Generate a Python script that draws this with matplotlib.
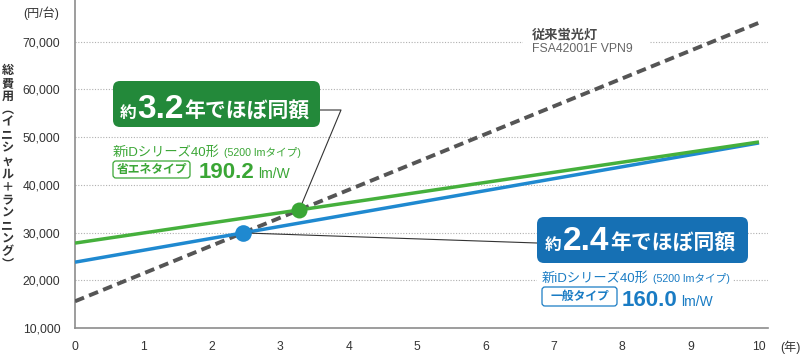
import matplotlib
matplotlib.use('Agg')
import matplotlib.pyplot as plt
from matplotlib.transforms import IdentityTransform
from matplotlib.patches import FancyBboxPatch, Rectangle
from matplotlib.lines import Line2D
import numpy as np

plt.rcParams['font.family'] = ['Liberation Sans', 'Noto Sans CJK JP', 'DejaVu Sans']

# ---------------- data ----------------
years = [0, 10]
conventional_cost = [15600, 74000]     # 従来蛍光灯 FSA42001F VPN9
eco_cost = [27800, 49000]              # 新iDシリーズ40形 省エネタイプ
general_cost = [23800, 48800]          # 新iDシリーズ40形 一般タイプ
x_ticks = [0, 1, 2, 3, 4, 5, 6, 7, 8, 9, 10]
y_ticks = [10000, 20000, 30000, 40000, 50000, 60000, 70000]
y_tick_labels = ['10,000', '20,000', '30,000', '40,000', '50,000', '60,000', '70,000']
payback_eco = '3.2'
payback_general = '2.4'
eff_eco = '190.2'
eff_general = '160.0'

# ---------------- style ----------------
C_GREEN = '#45b03c'
C_GREEN_BOX = '#23893a'
C_GREEN_TXT = '#3aa635'
C_BLUE = '#1f89d0'
C_BLUE_BOX = '#1670b4'
C_BLUE_TXT = '#1a7cc4'
C_DASH = '#555555'
C_AXIS = '#8c8c8c'
C_TXT = '#333333'

W, H = 800, 354
fig = plt.figure(figsize=(W / 100, H / 100), dpi=100)
ax = fig.add_axes([75 / W, (H - 328) / H, (768 - 75) / W, 328 / H])
px_per_year = 68.4
px_per_10k = 47.7
ax.set_xlim(0, (768 - 75) / px_per_year)
ax.set_ylim(10000, 10000 + 328 / px_per_10k * 10000)

for s in ['top', 'right']:
    ax.spines[s].set_visible(False)
for s in ['left', 'bottom']:
    ax.spines[s].set_color(C_AXIS)
    ax.spines[s].set_linewidth(1.2)

ax.set_xticks(x_ticks)
ax.set_xticklabels([str(v) for v in x_ticks])
ax.set_yticks(y_ticks)
ax.set_yticklabels(y_tick_labels)
ax.tick_params(axis='both', length=0, labelsize=8.7, colors=C_TXT)
ax.tick_params(axis='x', pad=9)
ax.tick_params(axis='y', pad=10.5)

# dotted horizontal gridlines (skip the bottom one which is the axis)
for yv in y_ticks[1:]:
    ax.axhline(yv, color='#b0b0b0', lw=0.8, ls=(0, (1, 1.5)), zorder=0.5)

# lines
ax.plot(years, conventional_cost, color=C_DASH, lw=2.8, ls=(0, (2.5, 1.4)), zorder=3,
        solid_capstyle='butt', dash_capstyle='butt')
ax.plot(years, general_cost, color=C_BLUE, lw=2.5, zorder=3.2, solid_capstyle='butt')
ax.plot(years, eco_cost, color=C_GREEN, lw=2.5, zorder=3.3, solid_capstyle='butt')


def crossing(a, b):
    sa = (a[1] - a[0]) / (years[1] - years[0])
    sb = (b[1] - b[0]) / (years[1] - years[0])
    x = years[0] + (b[0] - a[0]) / (sa - sb)
    return x, a[0] + sa * (x - years[0])


gx, gy = crossing(eco_cost, conventional_cost)
bx, by = crossing(general_cost, conventional_cost)

# leader lines
fig.canvas.draw()
renderer = fig.canvas.get_renderer()
ID = IdentityTransform()


def P(x, y):
    return x, H - y


gdx, gdy = ax.transData.transform((gx, gy))
bdx, bdy = ax.transData.transform((bx, by))
ax.add_line(Line2D([P(320, 110)[0], P(341, 110)[0], gdx], [P(320, 110)[1], P(341, 110)[1], gdy],
                   transform=ID, color='#333333', lw=0.8, zorder=4, clip_on=False))
ax.add_line(Line2D([bdx, P(537, 243)[0]], [bdy, P(537, 243)[1]],
                   transform=ID, color='#333333', lw=0.8, zorder=4, clip_on=False))

ax.plot([gx], [gy], 'o', color=C_GREEN_TXT, ms=11.5, zorder=5, mec='none')
ax.plot([bx], [by], 'o', color=C_BLUE, ms=12, zorder=5, mec='none')


def txt(x, y, s, **kw):
    d = dict(transform=ID, clip_on=False, zorder=6)
    d.update(kw)
    return ax.text(*P(x, y), s, **d)


def runs(x, y, items, zorder=7):
    for it in items:
        s, size, weight, color = it[:4]
        gap = it[4] if len(it) > 4 else 0
        t = txt(x, y, s, fontsize=size, fontweight=weight, color=color,
                ha='left', va='baseline', zorder=zorder)
        bb = t.get_window_extent(renderer)
        x = bb.x1 + gap
    return x


def rbox(x0, y0, x1, y1, fc, ec, lw=0, r=6, z=6):
    p = FancyBboxPatch((x0, H - y1), x1 - x0, y1 - y0,
                       boxstyle='round,pad=0,rounding_size=%g' % r,
                       fc=fc, ec=ec, lw=lw, transform=ID, zorder=z, clip_on=False)
    ax.add_patch(p)


# ---- green box ----
rbox(113, 81, 320, 127, C_GREEN_BOX, 'none', r=7)
runs(120, 118, [('約', 12, 'bold', 'white', 1),
                (payback_eco, 24, 'bold', 'white', 0),
                ('年でほぼ同額', 15, 'bold', 'white')])

# green description
runs(113, 156, [('新iDシリーズ40形', 9.5, 'normal', C_GREEN_TXT, 4),
                ('(5200 lmタイプ)', 7.7, 'normal', C_GREEN_TXT)])
rbox(113, 161, 190, 178, 'white', C_GREEN_TXT, lw=0.9, r=3)
txt(151.5, 169.5, '省エネタイプ', fontsize=8.5, fontweight='bold', color=C_GREEN_TXT,
    ha='center', va='center', zorder=7)
runs(199, 178, [(eff_eco, 16, 'bold', C_GREEN_TXT, 3),
                ('lm/W', 10, 'normal', C_GREEN_TXT)])

# ---- blue box ----
rbox(537, 217, 748, 263, C_BLUE_BOX, 'none', r=7)
runs(545, 250, [('約', 12, 'bold', 'white', 1),
                (payback_general, 24, 'bold', 'white', 1),
                ('年でほぼ同額', 15, 'bold', 'white')])

# blue description (white bg over gridline)
ax.add_patch(Rectangle((537, H - 286), 196, 16, fc='white', ec='none',
                       transform=ID, zorder=5.5, clip_on=False))
runs(542, 282, [('新iDシリーズ40形', 9.5, 'normal', C_BLUE_TXT, 4),
                ('(5200 lmタイプ)', 7.7, 'normal', C_BLUE_TXT)])
rbox(542, 287, 617, 306, 'white', C_BLUE_TXT, lw=0.9, r=3)
txt(579.5, 296.5, '一般タイプ', fontsize=8.5, fontweight='bold', color=C_BLUE_TXT,
    ha='center', va='center', zorder=7)
runs(622, 306, [(eff_general, 16, 'bold', C_BLUE_TXT, 3),
                ('lm/W', 10, 'normal', C_BLUE_TXT)])

# ---- conventional label ----
ax.add_patch(Rectangle((523, H - 56), 127, 34, fc='white', ec='none',
                       transform=ID, zorder=5.5, clip_on=False))
txt(532, 38, '従来蛍光灯', fontsize=9.5, fontweight='bold', color='#4a4a4a',
    ha='left', va='baseline', zorder=7)
txt(532, 52, 'FSA42001F VPN9', fontsize=8.8, color='#666666',
    ha='left', va='baseline', zorder=7)

# ---- axis titles ----
txt(41, 13, '(円/台)', fontsize=8.7, color=C_TXT, ha='center', va='center')
txt(790, 347, '(年)', fontsize=8.7, color=C_TXT, ha='center', va='center')
vchars = ['総', '費', '用', '︵', 'イ', 'ニ', 'シ', 'ャ', 'ル', '＋', 'ラ', 'ン', 'ニ', 'ン', 'グ', '︶']
for i, ch in enumerate(vchars):
    txt(7.5, 71 + i * 12.9, ch, fontsize=8.7, color=C_TXT, ha='center', va='center',
        fontweight='bold')

fig.savefig('out.png', dpi=100)
